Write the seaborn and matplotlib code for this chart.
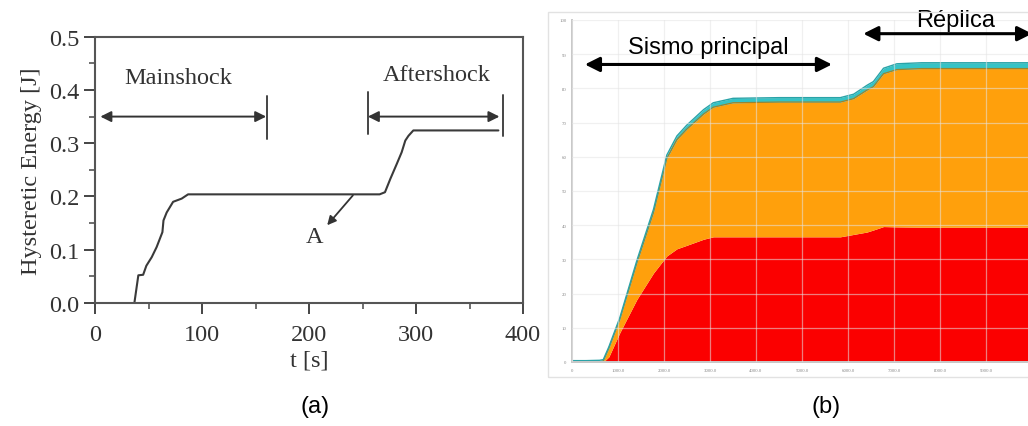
import matplotlib
matplotlib.use("Agg")
import matplotlib.pyplot as plt
from matplotlib.patches import Rectangle
from matplotlib.ticker import MultipleLocator
import numpy as np
import seaborn as sns

# ---- panel (a): cumulative hysteretic energy, mainshock + aftershock ----
t_s = [36.8, 40.5, 45, 48, 53, 57.6, 63, 64, 67, 73, 81, 87,
       266, 271, 276, 282, 286.6, 290, 293, 297.5, 377]
energy_j = [0.0, 0.052, 0.053, 0.070, 0.086, 0.105, 0.133, 0.155, 0.170, 0.190,
            0.196, 0.204, 0.204, 0.208, 0.233, 0.261, 0.283, 0.305, 0.314,
            0.324, 0.324]
mainshock_span = (5, 160)
aftershock_span = (255, 380)
a_xticks = [0, 100, 200, 300, 400]
a_yticks = [0.0, 0.1, 0.2, 0.3, 0.4, 0.5]

# ---- panel (b): stacked energy components ----
b_x = [0, 0.3, 0.6, 0.68, 0.8, 1.04, 1.41, 1.77, 2.06, 2.28, 2.49, 2.86, 3.07,
       3.5, 4.5, 5.5, 5.83, 6.12, 6.41, 6.55, 6.77, 7.06, 7.6, 8.5, 9.5, 10]
b_red = [0, 0, 0, 0, 1.5, 8.6, 18.3, 26.0, 31.0, 33.1, 34.1, 35.9, 36.6,
         36.6, 36.6, 36.6, 36.6, 37.3, 38.0, 38.6, 39.6, 39.5, 39.4, 39.4, 39.4, 39.4]
b_orange = [0, 0, 0.1, 0.3, 2.5, 3.9, 10.7, 17.7, 28.5, 31.9, 33.9, 36.6, 37.9,
            39.2, 39.4, 39.4, 39.4, 39.7, 41.5, 41.9, 44.7, 46.0, 46.4, 46.4, 46.4, 46.4]
b_teal = [0.4, 0.4, 0.4, 0.4, 0.4, 0.5, 0.7, 0.9, 1.0, 1.1, 1.2, 1.3, 1.3,
          1.3, 1.3, 1.3, 1.3, 1.3, 1.4, 1.5, 1.6, 1.7, 1.7, 1.7, 1.7, 1.7]
b_xticks = list(range(0, 10))
b_xlabels = ["0", "1000.0", "2000.0", "3000.0", "4000.0", "5000.0",
             "6000.0", "7000.0", "8000.0", "9000.0"]
b_yticks = list(range(0, 101, 10))
b_ylabels = [str(v) for v in b_yticks]
b_phase_main = (0.28, 5.65)
b_phase_after = (6.33, 10.0)

sns.set_theme(style="white")
plt.rcParams["font.family"] = ["Liberation Serif", "DejaVu Serif"]

fig = plt.figure(figsize=(10.28, 4.27), dpi=100)
FS = 17.5

# ================= (a) =================
axa = fig.add_axes([95 / 1028, 1 - 304 / 427, 428 / 1028, (304 - 37.7) / 427])
sns.lineplot(x=t_s, y=energy_j, ax=axa, color="#3a3a3a", linewidth=1.5)
axa.set_xlim(0, 400)
axa.set_ylim(0, 0.5)
axa.set_xticks(a_xticks)
axa.set_yticks(a_yticks)
axa.set_yticklabels([f"{v:.1f}" for v in a_yticks])
axa.xaxis.set_minor_locator(MultipleLocator(50))
axa.yaxis.set_minor_locator(MultipleLocator(0.05))
axa.tick_params(axis="both", which="major", direction="out", length=8, width=1.4,
                colors="#444", labelsize=FS, labelcolor="#333",
                bottom=True, left=True)
axa.tick_params(axis="x", which="major", pad=7)
axa.tick_params(axis="y", which="major", pad=3)
axa.tick_params(axis="both", which="minor", direction="out", length=4, width=1.2,
                colors="#555", bottom=True, left=True)
for sp in axa.spines.values():
    sp.set_color("#555")
    sp.set_linewidth(1.5)
axa.set_xlabel("t [s]", fontsize=FS, color="#333", labelpad=3)
axa.set_ylabel("Hysteretic Energy [J]", fontsize=FS, color="#333", labelpad=5)

arrow_kw = dict(arrowstyle="<|-|>", color="#333", lw=1.4, mutation_scale=16,
                shrinkA=0, shrinkB=0)
axa.annotate("", xy=(mainshock_span[1], 0.35), xytext=(mainshock_span[0], 0.35),
             arrowprops=arrow_kw)
axa.plot([161, 161], [0.308, 0.389], color="#444", lw=1.4)
axa.text(78, 0.404, "Mainshock", ha="center", va="bottom", fontsize=FS, color="#333")

axa.annotate("", xy=(aftershock_span[1] - 2, 0.35), xytext=(aftershock_span[0], 0.35),
             arrowprops=arrow_kw)
axa.plot([aftershock_span[0], aftershock_span[0]], [0.317, 0.396], color="#444", lw=1.4)
axa.plot([381.5, 381.5], [0.314, 0.39], color="#444", lw=1.4)
axa.text(319, 0.41, "Aftershock", ha="center", va="bottom", fontsize=FS, color="#333")

axa.annotate("", xy=(217, 0.146), xytext=(241, 0.202),
             arrowprops=dict(arrowstyle="-|>", color="#333", lw=1.3,
                             mutation_scale=13, shrinkA=0, shrinkB=0))
axa.text(205, 0.125, "A", ha="center", va="center", fontsize=FS, color="#333")

# ================= (b) =================
fig.patches.append(Rectangle((548 / 1028, 1 - 378 / 427), 1.0, 365 / 427,
                             transform=fig.transFigure, fill=False,
                             edgecolor="#e2e2e2", linewidth=1.0))

axb = fig.add_axes([572 / 1028, 1 - 363 / 427, 456 / 1028, (363 - 21) / 427])
colors = ["#fb0000", "#ffa00c", "#35c3c6"]
axb.stackplot(b_x, b_red, b_orange, b_teal, colors=colors, linewidth=0)
total_orange = np.array(b_red) + np.array(b_orange)
total_all = total_orange + np.array(b_teal)
sns.lineplot(x=b_x, y=total_orange, ax=axb, color="#9a8430", linewidth=0.9)
sns.lineplot(x=b_x, y=total_all, ax=axb, color="#2aa3a8", linewidth=1.0)
axb.set_xlim(0, 9.91)
axb.set_ylim(0, 100)
axb.set_xticks(b_xticks)
axb.set_xticklabels(b_xlabels)
axb.set_yticks(b_yticks)
axb.set_yticklabels(b_ylabels)
axb.tick_params(axis="both", length=0, labelsize=3.5, labelcolor="#8a8a8a", pad=4)
axb.grid(True, color="#e4e4e4", linewidth=0.9, alpha=0.55)
axb.set_axisbelow(False)
for side in ("top", "right"):
    axb.spines[side].set_visible(False)
for side in ("left", "bottom"):
    axb.spines[side].set_color("#c8c8c8")
    axb.spines[side].set_linewidth(1.4)

sans = ["Liberation Sans", "DejaVu Sans"]
b_arrow = dict(arrowstyle="<|-|>", color="black", lw=2.2, mutation_scale=22,
               shrinkA=0, shrinkB=0)
axb.annotate("", xy=(b_phase_main[1], 87.0), xytext=(b_phase_main[0], 87.0),
             arrowprops=b_arrow, annotation_clip=False)
axb.text(2.96, 92.0, "Sismo principal", ha="center", va="center",
         fontsize=17, family=sans, color="black")
axb.annotate("", xy=(b_phase_after[1], 96.0), xytext=(b_phase_after[0], 96.0),
             arrowprops=b_arrow, annotation_clip=False)
axb.text(8.33, 100.0, "Réplica", ha="center", va="center", fontsize=17,
         family=sans, color="black", clip_on=False)

# panel captions
fig.text(315 / 1028, 1 - 407 / 427, "(a)", ha="center", va="center",
         fontsize=17, family=sans, color="black")
fig.text(826 / 1028, 1 - 407 / 427, "(b)", ha="center", va="center",
         fontsize=17, family=sans, color="black")

fig.savefig("out.png", dpi=100)
